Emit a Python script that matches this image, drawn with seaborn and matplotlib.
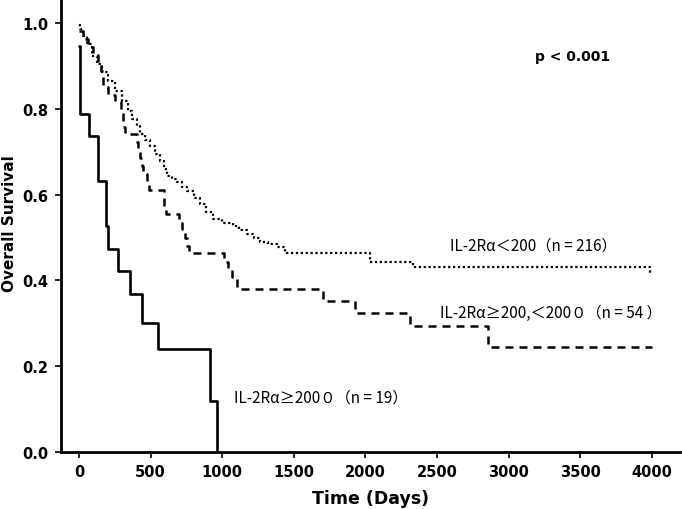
import matplotlib
matplotlib.use("Agg")
import matplotlib.pyplot as plt
import seaborn as sns
import pandas as pd

# Kaplan-Meier step points (time in days, survival after that time)
low_days = [0, 7, 28, 56, 91, 126, 161, 203, 251, 300, 342, 370, 405, 426, 460, 496,
            530, 566, 590, 615, 650, 684, 720, 754, 800, 845, 890, 936, 1000, 1075,
            1120, 1173, 1220, 1264, 1320, 1383, 1439, 2032, 2333, 3990, 4000]
low_surv = [0.995, 0.986, 0.970, 0.951, 0.923, 0.904, 0.886, 0.865, 0.841, 0.818, 0.795,
            0.776, 0.760, 0.741, 0.727, 0.713, 0.695, 0.678, 0.660, 0.643, 0.636, 0.629,
            0.618, 0.608, 0.592, 0.578, 0.560, 0.543, 0.535, 0.527, 0.518, 0.508, 0.499,
            0.490, 0.484, 0.478, 0.464, 0.443, 0.431, 0.417, 0.417]

mid_days = [0, 30, 60, 100, 130, 150, 165, 200, 250, 290, 307, 321, 405, 415, 426, 440,
            450, 475, 490, 595, 610, 700, 720, 740, 754, 770, 1010, 1040, 1070, 1100,
            1704, 1927, 2311, 2856, 4000]
mid_surv = [0.981, 0.963, 0.944, 0.926, 0.907, 0.889, 0.852, 0.833, 0.815, 0.796, 0.759,
            0.741, 0.722, 0.704, 0.685, 0.667, 0.648, 0.630, 0.611, 0.574, 0.556, 0.537,
            0.519, 0.500, 0.481, 0.463, 0.444, 0.426, 0.407, 0.380, 0.352, 0.325, 0.293,
            0.244, 0.244]

high_days = [0, 4, 10, 70, 133, 189, 200, 272, 356, 440, 552, 915, 964]
high_surv = [0.947, 0.842, 0.789, 0.737, 0.632, 0.526, 0.474, 0.421, 0.368, 0.300,
             0.240, 0.120, 0.0]

x_ticks = [0, 500, 1000, 1500, 2000, 2500, 3000, 3500, 4000]
y_ticks = [0.0, 0.2, 0.4, 0.6, 0.8, 1.0]

label_low = "IL-2Rα＜200（n = 216）"
label_mid = "IL-2Rα≥200,＜200０（n = 54 ）"
label_high = "IL-2Rα≥200０（n = 19）"

sns.set_style("ticks")
plt.rcParams["font.family"] = ["DejaVu Sans"]
plt.rcParams["text.color"] = "black"
plt.rcParams["axes.labelcolor"] = "black"
plt.rcParams["xtick.color"] = "black"
plt.rcParams["ytick.color"] = "black"

fig = plt.figure(figsize=(6.82, 5.10), dpi=100)
ax = fig.add_axes([61 / 682, 57 / 510, 619 / 682, 452 / 510])

low = pd.DataFrame({"days": low_days, "surv": low_surv})
mid = pd.DataFrame({"days": mid_days, "surv": mid_surv})
high = pd.DataFrame({"days": high_days, "surv": high_surv})

sns.lineplot(data=low, x="days", y="surv", ax=ax, estimator=None, sort=False,
             drawstyle="steps-post", color="black", lw=1.6, linestyle=(0, (1, 1.2)))
sns.lineplot(data=mid, x="days", y="surv", ax=ax, estimator=None, sort=False,
             drawstyle="steps-post", color="black", lw=1.8, linestyle=(0, (3.2, 2.4)))
sns.lineplot(data=high, x="days", y="surv", ax=ax, estimator=None, sort=False,
             drawstyle="steps-post", color="black", lw=1.9)

ax.set_xlim(-126, 4197)
ax.set_ylim(0, 1.054)
ax.set_xticks(x_ticks)
ax.set_yticks(y_ticks)
ax.set_yticklabels([f"{v:.1f}" for v in y_ticks])
ax.tick_params(axis="both", length=4, width=1.2, labelsize=10.5, color="black", pad=5)
for lbl in ax.get_xticklabels() + ax.get_yticklabels():
    lbl.set_fontweight("bold")

for side in ["top", "right"]:
    ax.spines[side].set_visible(False)
for side in ["left", "bottom"]:
    ax.spines[side].set_linewidth(2)
    ax.spines[side].set_color("black")

ax.set_xlabel("Time (Days)", fontsize=12.5, fontweight="bold", labelpad=7)
ax.set_ylabel("Overall Survival", fontsize=11, fontweight="bold")
ax.yaxis.set_label_coords(-0.071, 0.507)

cjk = ["Noto Sans CJK JP", "DejaVu Sans"]
ax.text(3450, 0.923, "p < 0.001", fontsize=10, fontweight="bold", ha="center", va="center")
ax.text(2591, 0.483, label_low, fontsize=11, family=cjk, ha="left", va="center")
ax.text(2521, 0.326, label_mid, fontsize=11, family=cjk, ha="left", va="center")
ax.text(1082, 0.128, label_high, fontsize=11, family=cjk, ha="left", va="center")

fig.savefig("out.png", dpi=100)
